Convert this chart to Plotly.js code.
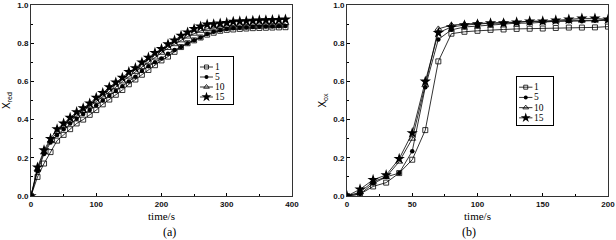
<!DOCTYPE html>
<html>
<head>
<meta charset="utf-8">
<script src="https://cdn.plot.ly/plotly-3.0.1.min.js"></script>
<style>html,body{margin:0;padding:0;background:#fff;}#chart{width:616px;height:240px;}</style>
</head>
<body>
<div id="chart"></div>
<script>
// ---- data ----
var seriesNames = ["1", "5", "10", "15"];

var timeA = [0,10,20,30,40,50,60,70,80,90,100,110,120,130,140,150,160,170,180,190,200,210,220,230,240,250,260,270,280,290,300,310,320,330,340,350,360,370,380,390];
var redS1  = [0,0.10,0.17,0.23,0.29,0.32,0.35,0.38,0.40,0.425,0.45,0.48,0.505,0.53,0.555,0.585,0.61,0.635,0.66,0.685,0.71,0.73,0.755,0.78,0.80,0.815,0.83,0.845,0.855,0.865,0.87,0.872,0.875,0.877,0.879,0.88,0.881,0.882,0.883,0.884];
var redS5  = [0,0.13,0.22,0.28,0.32,0.35,0.38,0.405,0.43,0.45,0.475,0.50,0.525,0.55,0.575,0.60,0.625,0.655,0.68,0.70,0.72,0.745,0.765,0.78,0.80,0.815,0.83,0.848,0.86,0.868,0.875,0.878,0.881,0.883,0.885,0.886,0.887,0.888,0.889,0.89];
var redS10 = [0,0.14,0.23,0.29,0.335,0.365,0.395,0.42,0.445,0.47,0.495,0.52,0.545,0.57,0.60,0.625,0.65,0.675,0.70,0.725,0.75,0.775,0.795,0.815,0.835,0.85,0.865,0.875,0.882,0.887,0.891,0.894,0.896,0.898,0.90,0.901,0.902,0.903,0.904,0.905];
var redS15 = [0,0.15,0.24,0.30,0.35,0.38,0.41,0.44,0.46,0.485,0.515,0.54,0.57,0.595,0.62,0.65,0.67,0.70,0.725,0.75,0.77,0.795,0.815,0.84,0.857,0.875,0.888,0.899,0.90,0.904,0.907,0.913,0.915,0.916,0.918,0.92,0.921,0.922,0.923,0.925];

var timeB = [0,10,20,30,40,50,60,70,80,90,100,110,120,130,140,150,160,170,180,190,200];
var oxS1  = [0,0.01,0.05,0.07,0.12,0.19,0.345,0.705,0.85,0.86,0.865,0.87,0.872,0.875,0.876,0.877,0.88,0.882,0.882,0.883,0.887];
var oxS5  = [0,0.01,0.065,0.10,0.12,0.235,0.57,0.82,0.87,0.885,0.89,0.895,0.90,0.905,0.905,0.91,0.915,0.915,0.915,0.918,0.92];
var oxS10 = [0,0.02,0.075,0.10,0.18,0.30,0.58,0.875,0.895,0.90,0.905,0.905,0.91,0.91,0.915,0.915,0.915,0.92,0.92,0.92,0.925];
var oxS15 = [0,0.035,0.085,0.11,0.195,0.33,0.60,0.855,0.885,0.895,0.90,0.905,0.905,0.91,0.915,0.915,0.92,0.925,0.93,0.93,0.925];

var xTicksA = [0,100,200,300,400];
var xTicksB = [0,50,100,150,200];
var yTicks = [0,0.2,0.4,0.6,0.8,1.0];
var yTickText = ["0.0","0.2","0.4","0.6","0.8","1.0"];

// legend sample geometry (legend box internal units)
var legRows = [0,1,2,3];
var legLineX = [2,8.5,15];

// ---- styles ----
var markerStyles = [
  {symbol:"square-open", size:5, color:"#000", line:{width:0.8,color:"#000"}},
  {symbol:"circle", size:4.5, color:"#000", line:{width:0,color:"#000"}},
  {symbol:"triangle-up-open", size:6, color:"#000", line:{width:0.8,color:"#000"}},
  {symbol:"star", size:8.5, color:"#000", line:{width:0,color:"#000"}}
];
var legMarkerSizes = [4, 4, 5, 7.5];

var redData = [redS1, redS5, redS10, redS15];
var oxData = [oxS1, oxS5, oxS10, oxS15];

var serif = "Liberation Serif";
var sans = "Liberation Sans";

var traces = [];
for (var i = 0; i < 4; i++) {
  traces.push({x: timeA, y: redData[i], xaxis:"x", yaxis:"y", type:"scatter", mode:"lines+markers",
    line:{color:"#000", width:0.8}, marker:markerStyles[i], showlegend:false, name:seriesNames[i]});
}
for (var i = 0; i < 4; i++) {
  traces.push({x: timeB, y: oxData[i], xaxis:"x2", yaxis:"y2", type:"scatter", mode:"lines+markers",
    line:{color:"#000", width:0.8}, marker:markerStyles[i], showlegend:false, name:seriesNames[i]});
}
// custom compact legends
var legAxes = [["x3","y3"],["x4","y4"]];
var annotations = [];
for (var k = 0; k < 2; k++) {
  for (var i = 0; i < 4; i++) {
    traces.push({x: legLineX, y: [legRows[i],legRows[i],legRows[i]], xaxis:legAxes[k][0], yaxis:legAxes[k][1],
      type:"scatter", mode:"lines", line:{color:"#000", width:0.8}, showlegend:false, hoverinfo:"skip"});
    var ms = JSON.parse(JSON.stringify(markerStyles[i]));
    ms.size = legMarkerSizes[i];
    traces.push({x: [legLineX[1]], y: [legRows[i]], xaxis:legAxes[k][0], yaxis:legAxes[k][1],
      type:"scatter", mode:"markers", marker:ms, showlegend:false, hoverinfo:"skip"});
    annotations.push({x:16, y:legRows[i], xref:legAxes[k][0], yref:legAxes[k][1], text:seriesNames[i],
      showarrow:false, xanchor:"left", yanchor:"middle", borderpad:0,
      font:{family:serif, size:9.5, color:"#000"}});
  }
}
annotations.push({x:0.263, y:0.033, xref:"paper", yref:"paper", yanchor:"middle", text:"(a)", showarrow:false,
  borderpad:0, font:{family:serif, size:12, color:"#000"}});
annotations.push({x:0.775, y:0.033, xref:"paper", yref:"paper", yanchor:"middle", text:"(b)", showarrow:false,
  borderpad:0, font:{family:serif, size:12, color:"#000"}});

var tickFont = {family:sans, size:8, color:"#111", weight:"bold"};
var titleFont = {family:serif, size:11, color:"#000"};
var yTitleFont = {family:sans, size:10, color:"#000"};

function xAxis(domain, range, tickvals, minorDt, anchor) {
  return {domain:domain, range:range, anchor:anchor, tickvals:tickvals, ticks:"inside", ticklen:3, tickwidth:1,
    tickcolor:"#000", showline:true, linecolor:"#333", linewidth:1, mirror:true, showgrid:false, zeroline:false,
    tickfont:tickFont, minor:{dtick:minorDt, ticks:"inside", ticklen:2, tickcolor:"#000", showgrid:false},
    title:{text:"time/s", font:titleFont, standoff:4}};
}
function yAxis(anchor, title) {
  return {domain:[0.1833,0.979], range:[0,1], anchor:anchor, tickvals:yTicks, ticktext:yTickText, ticks:"inside",
    ticklen:3, tickcolor:"#000", showline:true, linecolor:"#333", linewidth:1, mirror:true, showgrid:false,
    zeroline:false, tickfont:tickFont, minor:{dtick:0.1, ticks:"inside", ticklen:2, tickcolor:"#000", showgrid:false},
    title:{text:title, font:yTitleFont, standoff:4}};
}
function legX(domain, anchor) {
  return {domain:domain, range:[0,35], anchor:anchor, showline:true, mirror:true, linecolor:"#000", linewidth:1,
    showticklabels:false, ticks:"", showgrid:false, zeroline:false, fixedrange:true};
}
function legY(domain, anchor) {
  return {domain:domain, range:[3.7,-1], anchor:anchor, showline:true, mirror:true, linecolor:"#000", linewidth:1,
    showticklabels:false, ticks:"", showgrid:false, zeroline:false, fixedrange:true};
}

var layout = {
  width:616, height:240, margin:{l:0,r:0,t:0,b:0}, paper_bgcolor:"#fff", plot_bgcolor:"rgba(0,0,0,0)",
  showlegend:false,
  xaxis: xAxis([0.0503,0.474],[0,400],xTicksA,50,"y"),
  yaxis: yAxis("x","X<sub>red</sub>"),
  xaxis2: xAxis([0.5633,0.987],[0,200],xTicksB,25,"y2"),
  yaxis2: yAxis("x2","X<sub>ox</sub>"),
  xaxis3: legX([0.3214,0.3782],"y3"),
  yaxis3: legY([0.5667,0.7625],"x3"),
  xaxis4: legX([0.8393,0.8977],"y4"),
  yaxis4: legY([0.4792,0.6792],"x4"),
  annotations: annotations
};

Plotly.newPlot("chart", traces, layout, {staticPlot:true, displayModeBar:false});
</script>
</body>
</html>
